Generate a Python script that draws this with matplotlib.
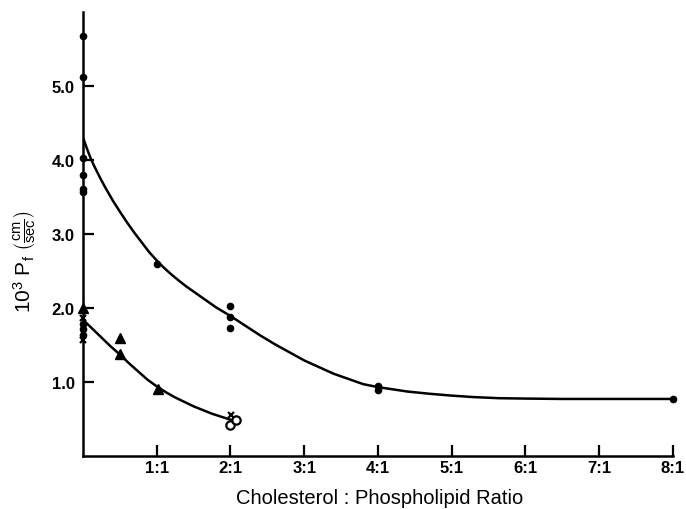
import matplotlib.pyplot as plt

plt.rcParams['font.family'] = ['Liberation Sans', 'DejaVu Sans']
plt.rcParams['mathtext.fontset'] = 'custom'
plt.rcParams['mathtext.rm'] = 'Liberation Sans'
plt.rcParams['mathtext.it'] = 'Liberation Sans'

# (x = cholesterol:phospholipid ratio, y = 10^3 Pf)
upper_x = [0, 0, 0, 0, 0, 0, 1, 2, 2, 2, 4, 4, 8]
upper_y = [5.67, 5.12, 4.03, 3.80, 3.61, 3.56, 2.59, 2.03, 1.88, 1.73, 0.95, 0.89, 0.77]

# points
upper_curve_x = [0, 0.05, 0.1, 0.15, 0.23, 0.3, 0.41, 0.5, 0.6, 0.7, 0.8, 0.9, 1.0, 1.1,
                 1.2, 1.31, 1.4, 1.5, 1.6, 1.7, 1.8, 1.9, 2.0, 2.2, 2.4, 2.6, 2.8, 3.0,
                 3.2, 3.4, 3.6, 3.8, 4.0, 4.2, 4.4, 4.7, 5.0, 5.3, 5.65, 6.0, 6.5, 7.0, 8.0]
upper_curve_y = [4.30, 4.16, 4.03, 3.92, 3.76, 3.63, 3.44, 3.30, 3.15, 3.01, 2.88, 2.75,
                 2.64, 2.54, 2.45, 2.36, 2.29, 2.22, 2.15, 2.08, 2.01, 1.95, 1.89, 1.76,
                 1.63, 1.51, 1.40, 1.29, 1.20, 1.11, 1.04, 0.97, 0.93, 0.90, 0.87, 0.84,
                 0.815, 0.795, 0.78, 0.775, 0.77, 0.77, 0.77]

tri_x = [0, 0.5, 0.5, 1.02]
tri_y = [2.0, 1.59, 1.38, 0.90]

dot_low_x = [0, 0, 0]
dot_low_y = [1.78, 1.71, 1.64]

cross_x = [0, 0, 2.01]
cross_y = [1.87, 1.57, 0.56]

open_x = [1.99, 2.08]
open_y = [0.42, 0.49]

# points
lower_curve_x = [0, 0.125, 0.25, 0.375, 0.5, 0.625, 0.75, 0.875, 1.0, 1.125, 1.25,
                 1.375, 1.5, 1.625, 1.75, 1.875, 2.0]
lower_curve_y = [1.84, 1.72, 1.60, 1.48, 1.37, 1.25, 1.14, 1.03, 0.94, 0.86, 0.79,
                 0.73, 0.67, 0.62, 0.57, 0.53, 0.49]

xticks = [1, 2, 3, 4, 5, 6, 7, 8]
xticklabels = ['1:1', '2:1', '3:1', '4:1', '5:1', '6:1', '7:1', '8:1']
yticks = [1, 2, 3, 4, 5]
yticklabels = ['1.0', '2.0', '3.0', '4.0', '5.0']

fig = plt.figure(figsize=(6.86, 5.10), dpi=100)
ax = fig.add_axes([0.121, 0.104, 0.860, 0.871])

ax.plot(upper_curve_x, upper_curve_y, color='k', lw=1.8)
ax.plot(lower_curve_x, lower_curve_y, color='k', lw=1.8)

ax.plot(upper_x, upper_y, 'o', color='k', ms=4.5, clip_on=False)
ax.plot(dot_low_x, dot_low_y, 'o', color='k', ms=4.5, clip_on=False)
ax.plot(tri_x, tri_y, '^', color='k', ms=6.5, clip_on=False)
ax.plot(cross_x, cross_y, 'x', color='k', ms=5, mew=1.6, clip_on=False)
ax.plot(open_x, open_y, 'o', mfc='white', mec='k', mew=1.6, ms=6, clip_on=False)

ax.set_xlim(0, 8)
ax.set_ylim(0, 6.0)
ax.set_xticks(xticks)
ax.set_xticklabels(xticklabels, fontsize=12, fontweight='bold')
ax.set_yticks(yticks)
ax.set_yticklabels(yticklabels, fontsize=12, fontweight='bold')
ax.tick_params(direction='in', length=8, width=1.6)
ax.tick_params(axis='x', pad=3)
ax.tick_params(axis='y', pad=6)

ax.spines['top'].set_visible(False)
ax.spines['right'].set_visible(False)
ax.spines['left'].set_linewidth(1.8)
ax.spines['bottom'].set_linewidth(1.8)

fig.text(380 / 686, 1 - 499 / 510, 'Cholesterol : Phospholipid Ratio',
         ha='center', va='center', fontsize=14.5)
fig.text(25 / 686, 1 - 262 / 510, r'$\mathregular{10^3\ P_f\ \left(\frac{cm}{sec}\right)}$',
         ha='center', va='center', rotation=90, fontsize=15)

plt.savefig('out.png')
